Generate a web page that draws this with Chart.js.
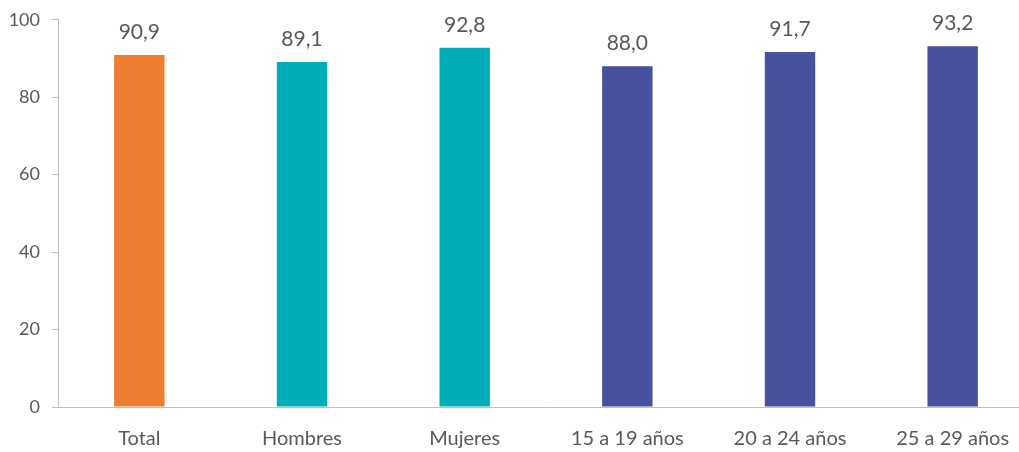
<!DOCTYPE html>
<html>
<head>
<meta charset="utf-8">
<script src="https://cdn.jsdelivr.net/npm/chart.js@4/dist/chart.umd.min.js"></script>
<style>
  html, body { margin: 0; padding: 0; background: #fff; overflow: hidden; }
  #wrap { width: 1040px; height: 455px; margin-top: -3px; }
</style>
</head>
<body>
<div id="wrap"><canvas id="chart" width="1040" height="455"></canvas></div>
<script>
// categories and values
const categories = ['Total', 'Hombres', 'Mujeres', '15 a 19 años', '20 a 24 años', '25 a 29 años'];
const values = [90.9, 89.1, 92.8, 88.0, 91.7, 93.2];
const barColors = ['#ED7D31', '#00AEB9', '#00AEB9', '#4851A0', '#4851A0', '#4851A0'];
const yTicks = [0, 20, 40, 60, 80, 100];

const textColor = '#595959';
const axisColor = '#BFBFBF';

// value labels above each bar (comma decimals)
const valueLabels = {
  id: 'valueLabels',
  afterDatasetsDraw(chart) {
    const ctx = chart.ctx;
    const meta = chart.getDatasetMeta(0);
    ctx.save();
    ctx.font = '21px Lato';
    ctx.fillStyle = textColor;
    ctx.textAlign = 'center';
    ctx.textBaseline = 'alphabetic';
    meta.data.forEach((bar, i) => {
      ctx.fillText(values[i].toFixed(1).replace('.', ','), bar.x, bar.y - 16);
    });
    ctx.restore();
  }
};

new Chart(document.getElementById('chart'), {
  type: 'bar',
  data: {
    labels: categories,
    datasets: [{
      data: values,
      backgroundColor: barColors,
      barPercentage: 0.31,
      categoryPercentage: 1
    }]
  },
  options: {
    responsive: false,
    animation: false,
    layout: { padding: { top: 15, right: 6, left: 0, bottom: 0 } },
    plugins: { legend: { display: false }, tooltip: { enabled: false } },
    scales: {
      y: {
        min: 0,
        max: 100,
        afterBuildTicks(axis) { axis.ticks = yTicks.map(v => ({ value: v })); },
        afterFit(axis) { axis.width = 58; },
        grid: { drawOnChartArea: false, drawTicks: true, tickLength: 6, color: axisColor },
        border: { display: true, color: axisColor, width: 1 },
        ticks: { color: textColor, font: { family: 'Lato', size: 18 }, padding: 12 }
      },
      x: {
        afterFit(axis) { axis.height = 45; },
        grid: { display: false },
        border: { display: true, color: axisColor, width: 1 },
        ticks: { color: textColor, font: { family: 'Lato', size: 20 }, padding: 12, maxRotation: 0 }
      }
    }
  },
  plugins: [valueLabels]
});
</script>
</body>
</html>
